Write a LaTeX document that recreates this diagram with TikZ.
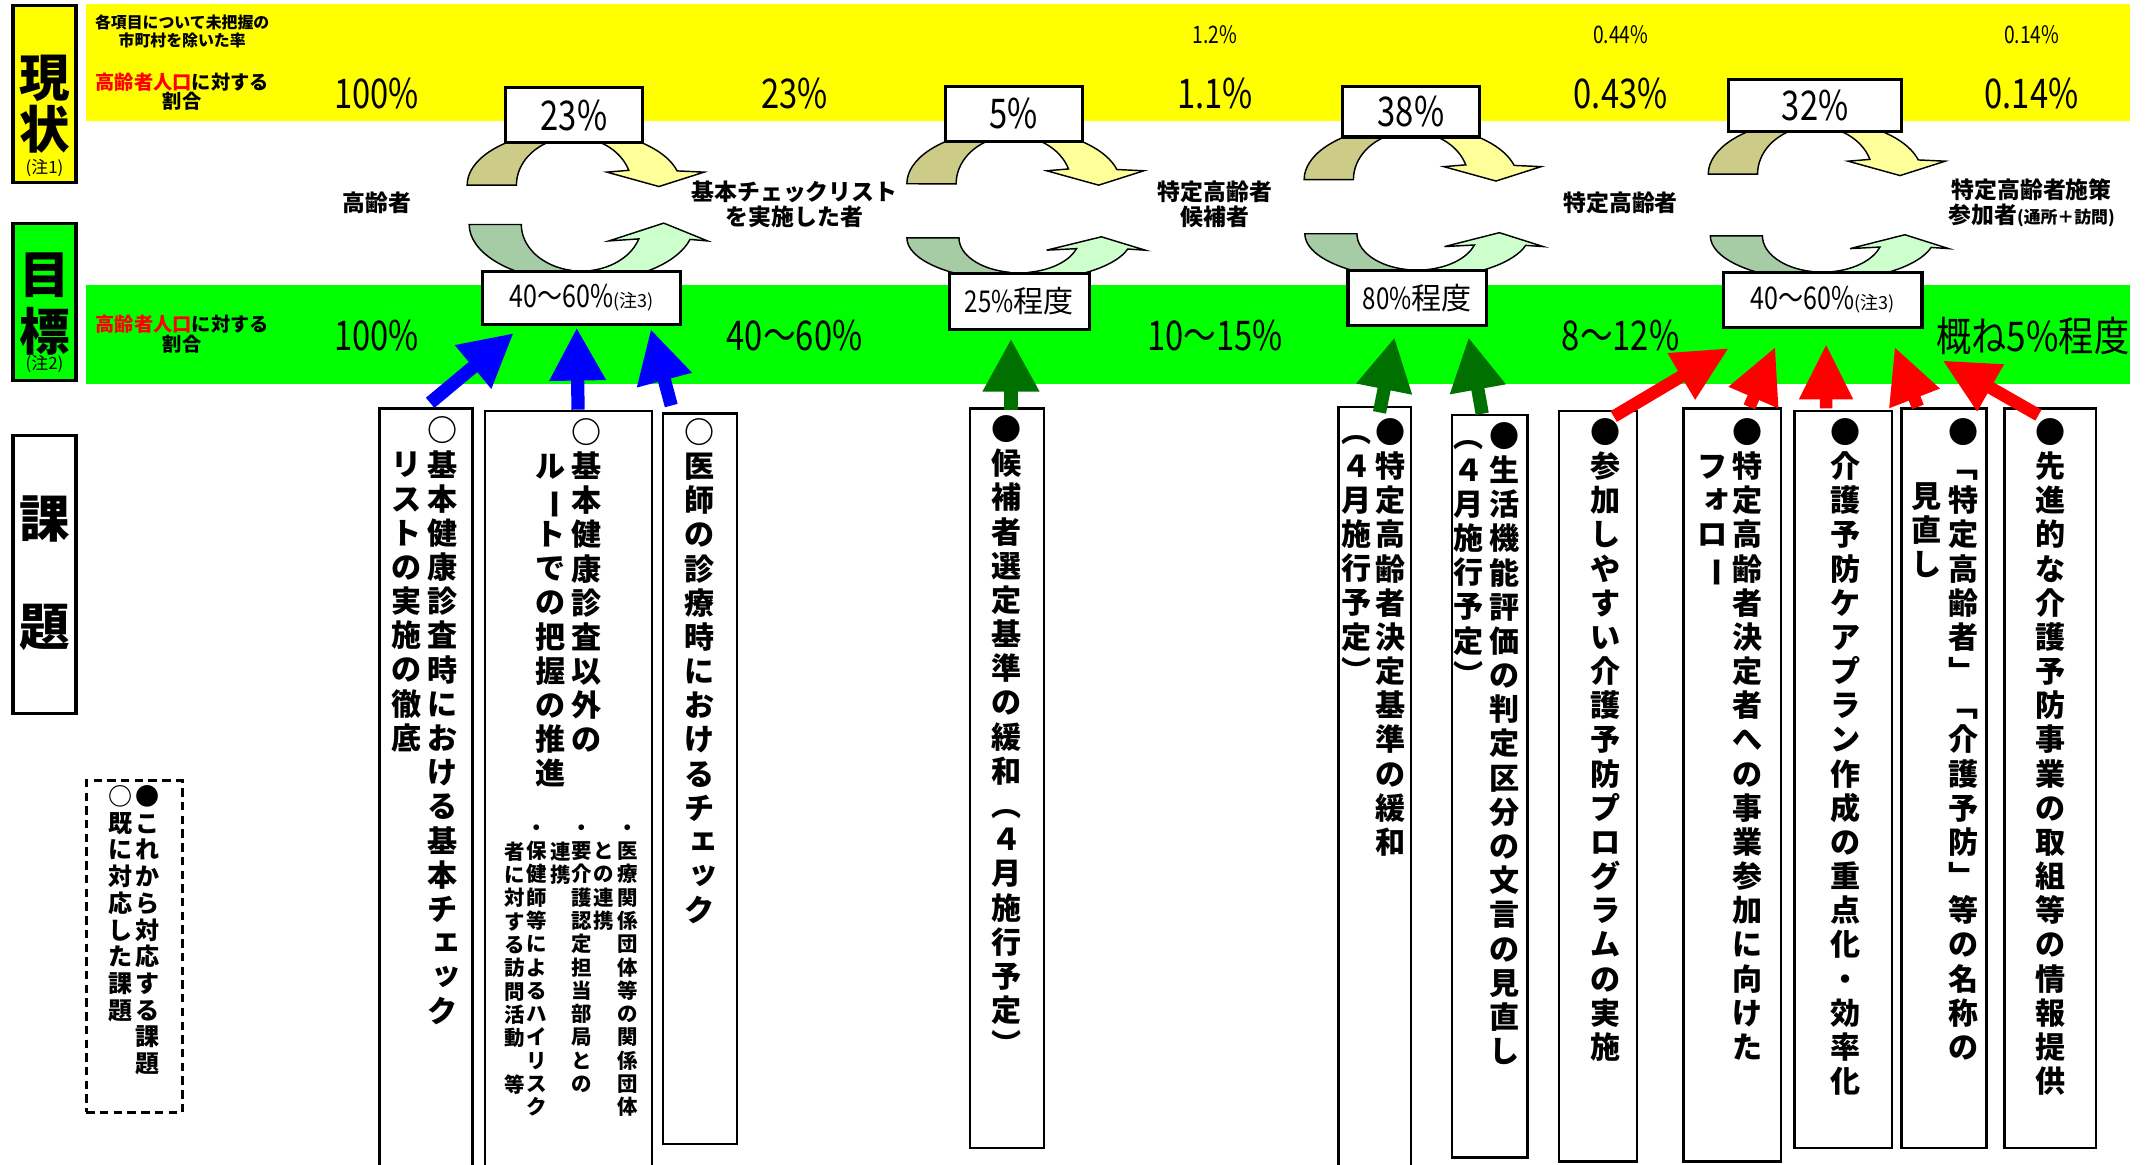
\documentclass[tikz,border=0pt]{standalone}
\usepackage{fontspec}
\usepackage{graphicx}
\setmainfont{Noto Sans CJK JP}
\usetikzlibrary{calc,arrows.meta}
\definecolor{bandY}{RGB}{255,255,0}
\definecolor{bandG}{RGB}{0,255,0}
\definecolor{olv}{RGB}{204,204,136}
\definecolor{lyel}{RGB}{255,255,153}
\definecolor{dgr}{RGB}{166,204,166}
\definecolor{lgr}{RGB}{204,255,204}
\definecolor{arB}{RGB}{0,0,255}
\definecolor{arG}{RGB}{0,112,0}
\definecolor{arR}{RGB}{255,0,0}
\newcommand\U[1]{#1*0.02cm}
\newcommand\nar[1]{\scalebox{0.8}[1]{#1}}
\newcommand\sk[1]{\hbox to 1em{\kern0.13em\raisebox{0.13em}{#1}\hss}}
\newcommand\vl{\rotatebox[origin=c]{-90}{ー}}
\ExplSyntaxOn
\NewDocumentCommand\vcol{O{1.136}m}{\vtop{\baselineskip=#1em\lineskiplimit=-\maxdimen\lineskip=0pt\tl_map_inline:nn{#2}{\hbox_to_wd:nn{1em}{\hss\vphantom{国}##1\hss}}}}
\ExplSyntaxOff
\pgfdeclarelayer{back}
\pgfdeclarelayer{mid}
\pgfsetlayers{back,mid,main}
\begin{document}
\begin{tikzpicture}[x=0.02cm, y=-0.02cm,
 toppair/.pic={
  \filldraw[fill=olv, draw=black, line width=0.6pt]
   (-78,30) arc[start angle=180, end angle=255, x radius=78, y radius=40]
   -- (-10.9,-3.8) arc[start angle=255, end angle=180, x radius=42, y radius=35] -- cycle;
  \filldraw[fill=lyel, draw=black, line width=0.6pt]
   (10.9,-3.8) arc[start angle=285, end angle=342, x radius=42, y radius=35]
   -- (24,20.5) -- (62,31) -- (95,20.5) -- (75.3,19.6)
   arc[start angle=345, end angle=285, x radius=78, y radius=40] -- cycle;
 },
 botpair/.pic={
  \filldraw[fill=dgr, draw=black, line width=0.6pt]
   (-82,-33) arc[start angle=180, end angle=100, x radius=82, y radius=42]
   -- (-7.6,0.5) arc[start angle=100, end angle=180, x radius=44, y radius=34] -- cycle;
  \filldraw[fill=lgr, draw=black, line width=0.6pt]
   (7.6,0.5) arc[start angle=80, end angle=18, x radius=44, y radius=34]
   -- (20,-21) -- (60,-34) -- (92,-21) -- (79.2,-22.1)
   arc[start angle=15, end angle=80, x radius=82, y radius=42] -- cycle;
 },
 lbox/.style={draw, line width=1.3pt, inner sep=0pt},
 pbox/.style={draw, fill=white, line width=1.3pt, inner sep=0pt},
 ibox/.style={draw, line width=1.1pt, inner sep=0pt},
 big/.style={inner sep=0pt, font=\bfseries\fontsize{21pt}{21pt}\selectfont},
 note/.style={inner sep=0pt, font=\fontsize{7pt}{7pt}\selectfont},
 vt/.style={inner sep=0pt, anchor=north, font=\bfseries\fontsize{12.5pt}{14pt}\selectfont},
 vts/.style={inner sep=0pt, anchor=north, font=\bfseries\fontsize{8.5pt}{10pt}\selectfont},
 vtl/.style={inner sep=0pt, anchor=north, font=\bfseries\fontsize{10pt}{11pt}\selectfont},
 num/.style={inner sep=0pt, font=\fontsize{17pt}{17pt}\selectfont},
 snum/.style={inner sep=0pt, font=\fontsize{10pt}{10pt}\selectfont},
 lab/.style={inner sep=0pt, align=center, font=\bfseries\fontsize{9.5pt}{10.5pt}\selectfont},
 ratio/.style={inner sep=0pt, align=center, font=\bfseries\fontsize{8pt}{8.2pt}\selectfont},
 tiny/.style={inner sep=0pt, align=center, font=\bfseries\fontsize{6.6pt}{7.4pt}\selectfont},
 barr/.style={draw=arB, line width=5.5pt, -{Triangle[width=22pt,length=22pt]}},
 garr/.style={draw=arG, line width=5.5pt, -{Triangle[width=22pt,length=22pt]}},
 rarr/.style={draw=arR, line width=5.2pt, -{Triangle[width=21pt,length=23pt]}},
]
\useasboundingbox (0,0) rectangle (1568,850);
\begin{pgfonlayer}{back}
\fill[white] (0,0) rectangle (1568,850);
\fill[bandY] (63,3) rectangle (1555,88);
\fill[bandG] (63,208) rectangle (1555,280);
\end{pgfonlayer}

% left headings
\node[lbox, fill=bandY, minimum width=\U{46}, minimum height=\U{129}] (genjo) at (32.5,68.5) {};
\node[big] (genjo1) at (32.5,57) {現};
\node[big] (genjo2) at (32.5,94) {状};
\node[note] (genjo3) at (32.5,123) {(注1)};
\node[lbox, fill=bandG, minimum width=\U{46}, minimum height=\U{115}] (moku) at (32.5,220.5) {};
\node[big] (moku1) at (32.5,201) {目};
\node[big] (moku2) at (32.5,242) {標};
\node[note] (moku3) at (32.5,266) {(注2)};
\node[lbox, fill=white, minimum width=\U{46}, minimum height=\U{203}] (kadai) at (32.5,419.5) {};
\node[big] (kadai1) at (32.5,379) {課};
\node[big] (kadai2) at (32.5,458) {題};

% band texts
\node[tiny] (note1) at (133,23) {各項目について未把握の\\市町村を除いた率};
\node[ratio] (ratY) at (133,67) {\textcolor{arR}{高齢者人口}に対する\\割合};
\node[ratio] (ratG) at (133,244) {\textcolor{arR}{高齢者人口}に対する\\割合};

\node[num] (y1) at (275,68) {\nar{100\%}};
\node[num] (y2) at (580,68) {\nar{23\%}};
\node[num] (y3) at (887,68) {\nar{1.1\%}};
\node[num] (y4) at (1183,68) {\nar{0.43\%}};
\node[num] (y5) at (1483,68) {\nar{0.14\%}};
\node[snum] (s3) at (887,25) {\nar{1.2\%}};
\node[snum] (s4) at (1183,25) {\nar{0.44\%}};
\node[snum] (s5) at (1483,25) {\nar{0.14\%}};

\node[lab] (m1) at (275,148) {高齢者};
\node[lab] (m2) at (580,149) {基本チェックリスト\\を実施した者};
\node[lab] (m3) at (887,149) {特定高齢者\\候補者};
\node[lab] (m4) at (1183,148) {特定高齢者};
\node[lab] (m5) at (1483,148) {特定高齢者施策\\参加者{\fontsize{7pt}{7pt}\selectfont(通所＋訪問)}};

\node[num] (g1) at (275,245) {\nar{100\%}};
\node[num] (g2) at (580,245) {\nar{40～60\%}};
\node[num] (g3) at (887,245) {\nar{10～15\%}};
\node[num] (g4) at (1183,245) {\nar{8～12\%}};
\node[num] (g5) at (1484,245) {\scalebox{0.86}[1]{概ね5\%程度}};

% percentage boxes
\node[pbox, minimum width=\U{100}, minimum height=\U{40}, font=\fontsize{17pt}{17pt}\selectfont] (t1) at (419,84) {\nar{23\%}};
\node[pbox, minimum width=\U{100}, minimum height=\U{40}, font=\fontsize{17pt}{17pt}\selectfont] (t2) at (740,83) {\nar{5\%}};
\node[pbox, minimum width=\U{100}, minimum height=\U{37}, font=\fontsize{17pt}{17pt}\selectfont] (t3) at (1030,81.5) {\nar{38\%}};
\node[pbox, minimum width=\U{126}, minimum height=\U{38}, font=\fontsize{17pt}{17pt}\selectfont] (t4) at (1325,77) {\nar{32\%}};
\node[pbox, minimum width=\U{145}, minimum height=\U{39}, font=\fontsize{13pt}{13pt}\selectfont] (b1) at (424.5,217.5) {\nar{40～60\%}{\fontsize{7.5pt}{7.5pt}\selectfont(注3)}};
\node[pbox, minimum width=\U{102}, minimum height=\U{41}, font=\fontsize{12.5pt}{12.5pt}\selectfont] (b2) at (744,220) {\nar{25\%}程度};
\node[pbox, minimum width=\U{101}, minimum height=\U{40}, font=\fontsize{12.5pt}{12.5pt}\selectfont] (b3) at (1034.5,217.5) {\nar{80\%}程度};
\node[pbox, minimum width=\U{145}, minimum height=\U{40}, font=\fontsize{13pt}{13pt}\selectfont] (b4) at (1330.5,219) {\nar{40～60\%}{\fontsize{7.5pt}{7.5pt}\selectfont(注3)}};

\begin{pgfonlayer}{mid}
\pic at (t1.south) {toppair};
\pic at (t2.south) {toppair};
\pic at (t3.south) {toppair};
\pic at (t4.south) {toppair};
\pic at (b1.north) {botpair};
\pic[yscale=0.75] at (b2.north) {botpair};
\pic[yscale=0.78] at (b3.north) {botpair};
\pic[yscale=0.78] at (b4.north) {botpair};
\end{pgfonlayer}

% issue boxes
\node[ibox, minimum width=\U{68}, minimum height=\U{562}] (i1) at (311,579) {};
\node[ibox, minimum width=\U{122}, minimum height=\U{560}] (i2) at (415,580) {};
\node[ibox, minimum width=\U{54}, minimum height=\U{533}] (i3) at (511,568.5) {};
\node[ibox, minimum width=\U{54}, minimum height=\U{540}] (i4) at (735,568) {};
\node[ibox, minimum width=\U{53}, minimum height=\U{563}] (i5) at (1003.5,578.5) {};
\node[ibox, minimum width=\U{55}, minimum height=\U{542}] (i6) at (1087.5,574) {};
\node[ibox, minimum width=\U{57}, minimum height=\U{548}] (i7) at (1166.5,574) {};
\node[ibox, minimum width=\U{71}, minimum height=\U{550}] (i8) at (1264.5,573) {};
\node[ibox, minimum width=\U{71}, minimum height=\U{538}] (i9) at (1345.5,569) {};
\node[ibox, minimum width=\U{62}, minimum height=\U{540}] (i10) at (1419,568) {};
\node[ibox, minimum width=\U{67}, minimum height=\U{540}] (i11) at (1496.5,568) {};
\node[draw, line width=1.3pt, dash pattern=on 3.5pt off 2.2pt, inner sep=0pt, minimum width=\U{70}, minimum height=\U{242}] (legend) at (98,691) {};

% vertical texts
\node[vt] (i1r) at (323,304) {\vcol{○基本健康診査時における基本チ{\sk{ェ}}{\sk{ッ}}ク}};
\node[vt] (i1l) at (297,329) {\vcol{リストの実施の徹底}};
\node[vt] (i2r) at (428,305) {\vcol{○基本健康診査以外の}};
\node[vt] (i2l) at (402,330) {\vcol{ル\vl トでの把握の推進}};
\node[vts] (i2a) at (458,597) {\vcol[1.14]{・医療関係団体等の関係団体}};
\node[vts] (i2b) at (441,614) {\vcol[1.14]{との連携}};
\node[vts] (i2c) at (425,597) {\vcol[1.14]{・要介護認定担当部局との}};
\node[vts] (i2d) at (409,614) {\vcol[1.14]{連携}};
\node[vts] (i2e) at (392,597) {\vcol[1.14]{・保健師等によるハイリスク}};
\node[vts] (i2f) at (376,614) {\vcol[1.14]{者に対する訪問活動　等}};
\node[vt] (i3t) at (511,305) {\vcol{○医師の診療時におけるチ{\sk{ェ}}{\sk{ッ}}ク}};
\node[vt] (i4t) at (735,303) {\vcol{●候補者選定基準の緩和︵４月施行予定︶}};
\node[vt] (i5r) at (1015,305) {\vcol{●特定高齢者決定基準の緩和}};
\node[vt] (i5l) at (990,305) {\vcol{︵４月施行予定︶}};
\node[vt] (i6r) at (1098,308) {\vcol{●生活機能評価の判定区分の文言の見直し}};
\node[vt] (i6l) at (1072,308) {\vcol{︵４月施行予定︶}};
\node[vt] (i7t) at (1172,305) {\vcol{●参加しやすい介護予防プログラムの実施}};
\node[vt] (i8r) at (1276,305) {\vcol{●特定高齢者決定者への事業参加に向けた}};
\node[vt] (i8l) at (1250,330) {\vcol{フ{\sk{ォ}}ロ\vl}};
\node[vt] (i9t) at (1347,305) {\vcol{●介護予防ケアプラン作成の重点化・効率化}};
\node[vt] (i10r) at (1433,305) {\vcol{●﹁特定高齢者﹂﹁介護予防﹂等の名称の}};
\node[vt] (i10l) at (1406,352) {\vcol{見直し}};
\node[vt] (i11t) at (1497,305) {\vcol{●先進的な介護予防事業の取組等の情報提供}};
\node[vtl] (legr) at (108,573) {\vcol[1.11]{●これから対応する課題}};
\node[vtl] (legl) at (88,573) {\vcol[1.11]{○既に対応した課題}};

% connectors
\draw[barr] ($(i1.north)+(3,-3)$) -- ($(b1.south)+(-49.5,5)$);
\draw[barr] ($(i2.north)+(7,0)$) -- ($(b1.south)+(-3.5,1)$);
\draw[barr] ($(i3.north)+(-21,-5)$) -- ($(b1.south)+(50.5,2)$);
\draw[garr] ($(i4.north)+(3,2)$) -- ($(b2.south)+(-6,5.5)$);
\draw[garr] ($(i5.north)+(3.5,5)$) -- ($(b3.south)+(-16.5,7.5)$);
\draw[garr] ($(i6.north)+(-5.5,0)$) -- ($(b3.south)+(37.5,7.5)$);
\draw[rarr] ($(i7.north)+(11.5,5)$) -- ($(b4.south)+(-68.5,14)$);
\draw[rarr] ($(i8.north)+(12.5,0)$) -- ($(b4.south)+(-34.5,13)$);
\draw[rarr] ($(i9.north)+(-12.5,-1)$) -- ($(b4.south)+(2.5,11)$);
\draw[rarr] ($(i10.north)+(-19,0)$) -- ($(b4.south)+(52.5,13)$);
\draw[rarr] ($(i11.north)+(-8.5,6)$) -- ($(b4.south)+(87.5,23)$);
\end{tikzpicture}
\end{document}
